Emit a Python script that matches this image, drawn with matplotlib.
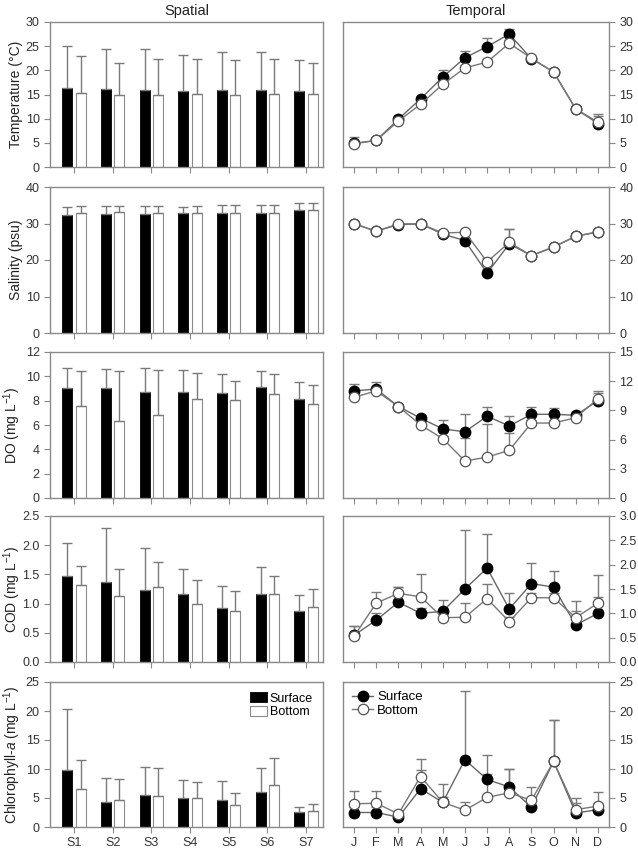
import numpy as np
import matplotlib.pyplot as plt

plt.rcParams['font.family'] = ['Liberation Sans', 'DejaVu Sans']
plt.rcParams['font.size'] = 9
plt.rcParams['mathtext.fontset'] = 'custom'
plt.rcParams['mathtext.rm'] = 'Liberation Sans'
plt.rcParams['mathtext.it'] = 'Liberation Sans:italic'

sites = ['S1', 'S2', 'S3', 'S4', 'S5', 'S6', 'S7']
months = ['J', 'F', 'M', 'A', 'M', 'J', 'J', 'A', 'S', 'O', 'N', 'D']

# spatial (site means and upper SD)
temp_s_surf = [16.3, 16.1, 15.9, 15.8, 15.9, 16.0, 15.8]
temp_s_surf_err = [8.7, 8.3, 8.5, 7.4, 7.8, 7.7, 6.3]
temp_s_bot = [15.3, 15.0, 14.8, 15.2, 15.0, 15.2, 15.2]
temp_s_bot_err = [7.7, 6.6, 7.5, 7.1, 7.1, 7.2, 6.3]

sal_s_surf = [32.3, 32.6, 32.5, 32.8, 33.0, 33.0, 33.7]
sal_s_surf_err = [2.3, 2.2, 2.3, 1.8, 2.0, 2.0, 1.8]
sal_s_bot = [32.8, 33.1, 33.0, 33.0, 33.0, 33.0, 33.8]
sal_s_bot_err = [2.0, 1.7, 1.8, 1.9, 2.0, 2.0, 1.7]

do_s_surf = [9.03, 9.08, 8.7, 8.75, 8.67, 9.11, 8.15]
do_s_surf_err = [1.67, 1.49, 1.98, 1.76, 1.51, 1.29, 1.35]
do_s_bot = [7.54, 6.36, 6.83, 8.15, 8.09, 8.53, 7.76]
do_s_bot_err = [2.92, 4.04, 3.68, 2.12, 1.54, 1.65, 1.54]

cod_s_surf = [1.47, 1.37, 1.23, 1.16, 0.92, 1.16, 0.88]
cod_s_surf_err = [0.57, 0.93, 0.72, 0.44, 0.38, 0.46, 0.27]
cod_s_bot = [1.32, 1.13, 1.29, 0.99, 0.88, 1.17, 0.94]
cod_s_bot_err = [0.32, 0.47, 0.43, 0.42, 0.33, 0.31, 0.31]

chl_s_surf = [9.77, 4.37, 5.57, 5.06, 4.6, 5.98, 2.59]
chl_s_surf_err = [10.5, 4.1, 4.8, 3.1, 3.3, 4.2, 0.86]
chl_s_bot = [6.55, 4.66, 5.4, 4.94, 3.74, 7.24, 2.76]
chl_s_bot_err = [5.0, 3.7, 4.8, 2.8, 2.2, 4.7, 1.26]

# temporal (monthly means and upper SD)
temp_t_surf = [4.9, 5.5, 9.9, 14.1, 18.6, 22.6, 24.9, 27.5, 22.4, 19.7, 12.0, 9.0]
temp_t_surf_err = [1.3, 0.4, 0.5, 0.6, 1.5, 1.4, 1.8, 1.0, 0.4, 0.4, 0.6, 2.0]
temp_t_bot = [4.8, 5.5, 9.5, 13.0, 17.1, 20.5, 21.7, 25.6, 22.5, 19.6, 12.0, 9.3]
temp_t_bot_err = [0.5, 0.4, 0.5, 0.6, 0.6, 0.7, 0.6, 0.7, 0.4, 0.4, 0.5, 1.3]

sal_t_surf = [29.9, 27.9, 29.7, 29.9, 27.1, 25.3, 16.4, 24.4, 21.2, 23.5, 26.5, 27.7]
sal_t_surf_err = [0.5, 0.5, 0.5, 0.5, 0.5, 0.8, 1.0, 4.1, 0.5, 0.5, 0.5, 0.5]
sal_t_bot = [29.9, 27.9, 29.9, 29.9, 27.4, 27.6, 19.5, 24.8, 21.2, 23.6, 26.5, 27.7]
sal_t_bot_err = [0.5, 0.5, 0.5, 0.5, 0.5, 0.5, 1.0, 3.7, 0.5, 0.5, 0.5, 0.5]

do_t_surf = [11.0, 11.2, 9.4, 8.2, 7.1, 6.8, 8.4, 7.4, 8.6, 8.6, 8.5, 10.0]
do_t_surf_err = [0.7, 0.7, 0.3, 0.3, 0.9, 1.8, 0.9, 1.0, 0.8, 0.6, 0.3, 1.0]
do_t_bot = [10.35, 11.0, 9.4, 7.5, 6.1, 3.8, 4.2, 4.9, 7.7, 7.7, 8.25, 10.2]
do_t_bot_err = [0.3, 0.3, 0.3, 0.3, 0.3, 2.4, 3.4, 1.8, 0.3, 0.3, 0.3, 0.6]

cod_t_surf = [0.55, 0.86, 1.23, 1.00, 1.04, 1.50, 1.93, 1.09, 1.61, 1.54, 0.76, 1.00]
cod_t_surf_err = [0.19, 0.14, 0.31, 0.1, 0.24, 1.22, 0.70, 0.33, 0.43, 0.32, 0.28, 0.34]
cod_t_bot = [0.53, 1.21, 1.41, 1.34, 0.91, 0.92, 1.30, 0.83, 1.32, 1.32, 0.91, 1.21]
cod_t_bot_err = [0.2, 0.22, 0.13, 0.46, 0.1, 0.29, 0.31, 0.1, 0.1, 0.1, 0.35, 0.58]

chl_t_surf = [2.5, 2.5, 1.7, 6.6, 4.25, 11.6, 8.2, 6.9, 3.4, 11.3, 2.4, 3.0]
chl_t_surf_err = [0.9, 0.9, 0.5, 3.3, 1.0, 11.9, 4.3, 3.1, 1.5, 7.2, 1.7, 1.2]
chl_t_bot = [4.0, 4.1, 2.25, 8.7, 4.25, 2.9, 5.1, 5.9, 4.6, 11.3, 3.0, 3.6]
chl_t_bot_err = [2.15, 2.05, 0.5, 3.1, 3.2, 1.4, 4.0, 4.1, 2.3, 7.2, 2.0, 2.4]

labels = ['Temperature (\u00b0C)', 'Salinity (psu)', 'DO (mg L$^{-1}$)',
          'COD (mg L$^{-1}$)', 'Chlorophyll-$\\mathit{a}$ (mg L$^{-1}$)']
left_ticks = [np.arange(0, 31, 5), np.arange(0, 41, 10), np.arange(0, 13, 2),
              np.arange(0, 2.51, 0.5), np.arange(0, 26, 5)]
right_ticks = [np.arange(0, 31, 5), np.arange(0, 41, 10), np.arange(0, 16, 3),
               np.arange(0, 3.01, 0.5), np.arange(0, 26, 5)]
fmt_left = ['%d', '%d', '%d', '%.1f', '%d']
fmt_right = ['%d', '%d', '%d', '%.1f', '%d']

spatial = [(temp_s_surf, temp_s_surf_err, temp_s_bot, temp_s_bot_err),
           (sal_s_surf, sal_s_surf_err, sal_s_bot, sal_s_bot_err),
           (do_s_surf, do_s_surf_err, do_s_bot, do_s_bot_err),
           (cod_s_surf, cod_s_surf_err, cod_s_bot, cod_s_bot_err),
           (chl_s_surf, chl_s_surf_err, chl_s_bot, chl_s_bot_err)]
temporal = [(temp_t_surf, temp_t_surf_err, temp_t_bot, temp_t_bot_err),
            (sal_t_surf, sal_t_surf_err, sal_t_bot, sal_t_bot_err),
            (do_t_surf, do_t_surf_err, do_t_bot, do_t_bot_err),
            (cod_t_surf, cod_t_surf_err, cod_t_bot, cod_t_bot_err),
            (chl_t_surf, chl_t_surf_err, chl_t_bot, chl_t_bot_err)]

W, H = 638, 848
fig = plt.figure(figsize=(W / 100, H / 100), dpi=100)
rows = [(22, 167), (187, 333), (352, 498), (516, 662), (682, 827)]
spine_c = '#8a8a8a'
err_c = '#7a7a7a'
txt_c = '#333333'


def style(ax):
    for s in ax.spines.values():
        s.set_color(spine_c)
        s.set_linewidth(1.0)
    ax.tick_params(colors=spine_c, labelcolor=txt_c, direction='out',
                   length=4, width=0.8, labelsize=9)


xs = np.arange(len(sites))
xm = np.arange(len(months))
bw = 0.26
off = 0.175

for i, (top, bot) in enumerate(rows):
    yb = 1 - bot / H
    h = (bot - top) / H

    # spatial bars
    ax = fig.add_axes([50 / W, yb, 273 / W, h])
    s, se, b, be = spatial[i]
    ekw = dict(ecolor=err_c, elinewidth=1.0, capthick=1.0)
    ax.bar(xs - off, s, bw, color='black', edgecolor='black', lw=0.6,
           yerr=[np.zeros(len(s)), se], capsize=3.6, error_kw=ekw,
           label='Surface')
    ax.bar(xs + off, b, bw, color='white', edgecolor=spine_c, lw=0.8,
           yerr=[np.zeros(len(b)), be], capsize=3.6, error_kw=ekw,
           label='Bottom')
    ax.set_xlim(-0.62, 6.44)
    ax.set_ylim(left_ticks[i][0], left_ticks[i][-1])
    ax.set_yticks(left_ticks[i])
    ax.set_yticklabels([fmt_left[i] % v for v in left_ticks[i]])
    ax.set_xticks(xs)
    if i == 4:
        ax.set_xticklabels(sites)
        ax.legend(loc='upper right', frameon=False, fontsize=9,
                  handlelength=1.4, handleheight=0.9, handletextpad=0.2,
                  borderaxespad=0.4, labelspacing=0.1)
    else:
        ax.set_xticklabels([])
    ax.set_ylabel(labels[i], fontsize=10, color='#222222')
    ax.yaxis.set_label_coords(-0.10, 0.5)
    style(ax)
    if i == 0:
        ax.set_title('Spatial', fontsize=10.5, color='#222222', pad=5)

    # temporal lines
    ax2 = fig.add_axes([343 / W, yb, 266 / W, h])
    s, se, b, be = temporal[i]
    ax2.errorbar(xm, s, yerr=[np.zeros(len(s)), se], fmt='none',
                 ecolor=err_c, elinewidth=1.0, capsize=3.6, capthick=1.0,
                 zorder=1)
    ax2.errorbar(xm, b, yerr=[np.zeros(len(b)), be], fmt='none',
                 ecolor=err_c, elinewidth=1.0, capsize=3.6, capthick=1.0,
                 zorder=1)
    ax2.plot(xm, s, '-o', color='#666666', lw=1.0, ms=7.5,
             mfc='black', mec='black', zorder=2, label='Surface')
    ax2.plot(xm, b, '-o', color='#777777', lw=1.0, ms=7.5,
             mfc='white', mec='#555555', mew=0.9, zorder=3, label='Bottom')
    ax2.set_xlim(-0.5, 11.5)
    ax2.set_ylim(right_ticks[i][0], right_ticks[i][-1])
    ax2.set_yticks(right_ticks[i])
    ax2.set_yticklabels([fmt_right[i] % v for v in right_ticks[i]])
    ax2.yaxis.tick_right()
    ax2.set_xticks(xm)
    if i == 4:
        ax2.set_xticklabels(months)
        ax2.legend(loc='upper left', frameon=False, fontsize=9.5,
                   handlelength=1.6, handletextpad=0.3,
                   borderaxespad=0.3, labelspacing=0.1)
    else:
        ax2.set_xticklabels([])
    style(ax2)
    if i == 0:
        ax2.set_title('Temporal', fontsize=10.5, color='#222222', pad=5)

fig.savefig('out.png', dpi=100)
